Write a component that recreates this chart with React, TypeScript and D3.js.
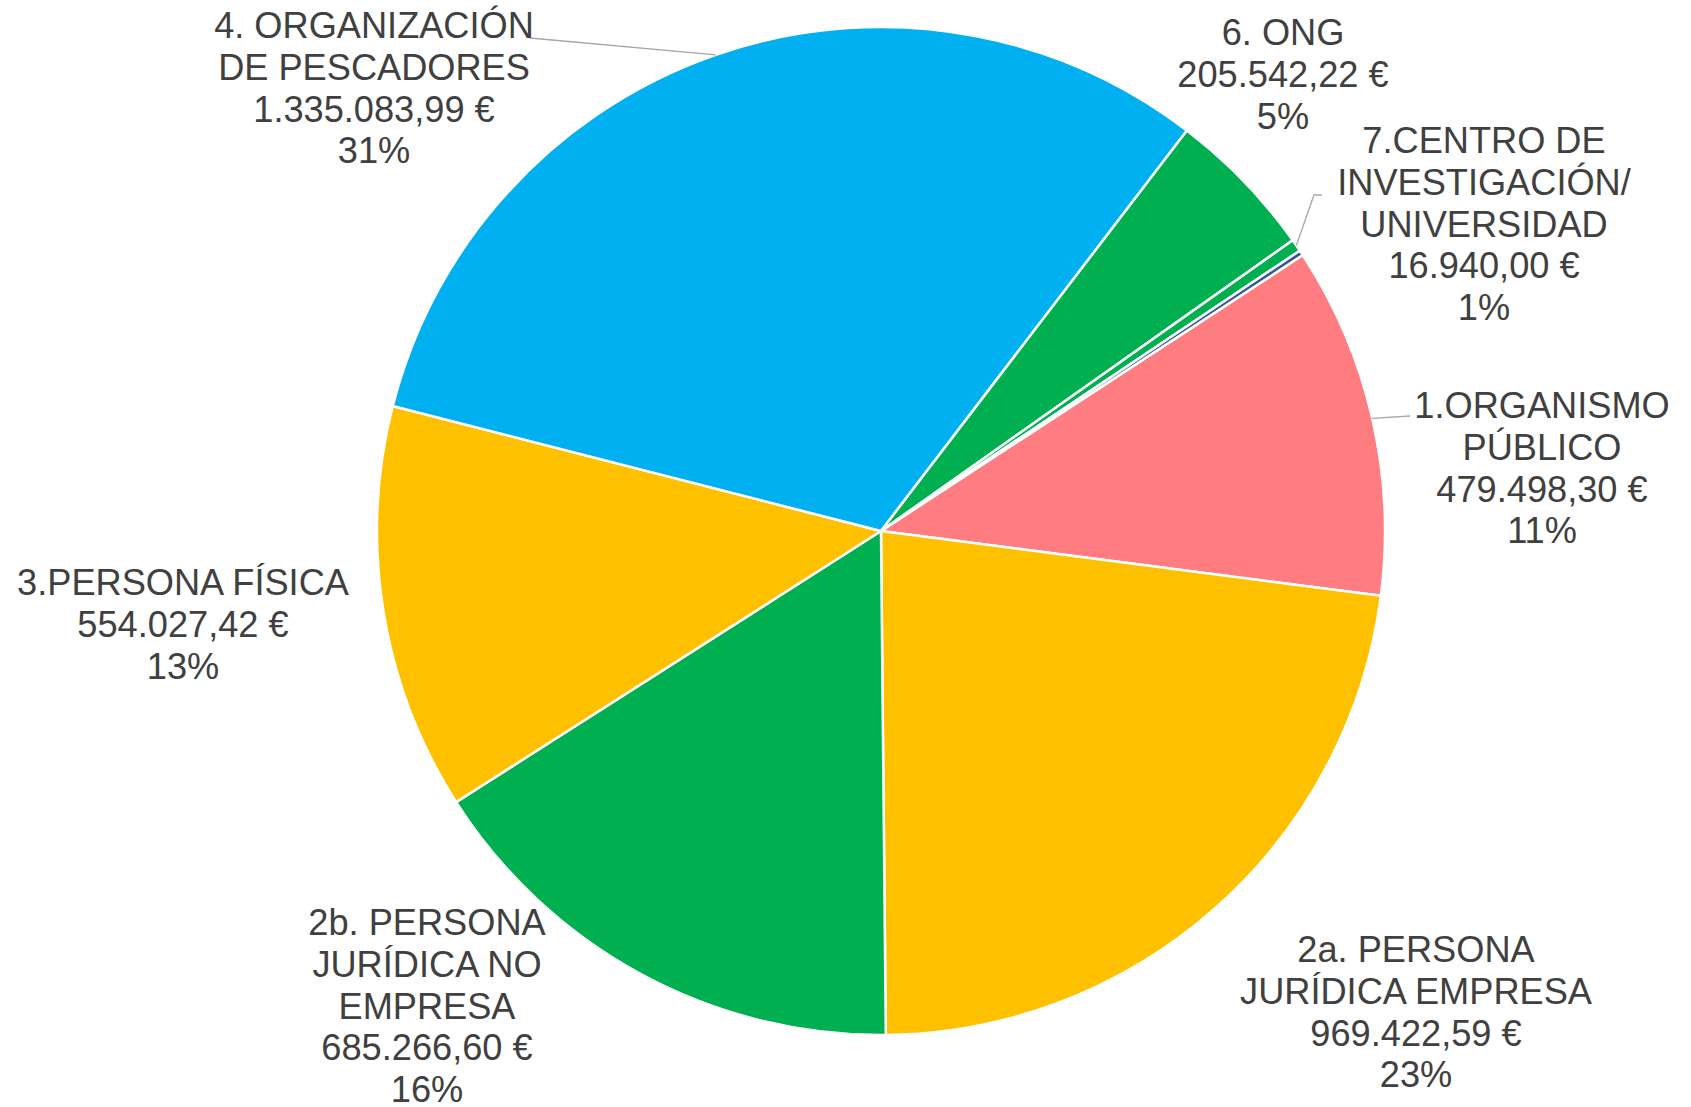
import React from "react";
import * as d3 from "d3";

const categories = [
  "1.ORGANISMO PÚBLICO",
  "2a. PERSONA JURÍDICA EMPRESA",
  "2b. PERSONA JURÍDICA NO EMPRESA",
  "3.PERSONA FÍSICA",
  "4. ORGANIZACIÓN DE PESCADORES",
  "6. ONG",
  "7.CENTRO DE INVESTIGACIÓN/ UNIVERSIDAD",
  "5.",
];
const values = [479498.3, 969422.59, 685266.6, 554027.42, 1335083.99, 205542.22, 16940.0, 7000];
const percentLabels = ["11%", "23%", "16%", "13%", "31%", "5%", "1%", ""];
const nameLines = [
  ["1.ORGANISMO", "PÚBLICO"],
  ["2a. PERSONA", "JURÍDICA EMPRESA"],
  ["2b. PERSONA", "JURÍDICA NO", "EMPRESA"],
  ["3.PERSONA FÍSICA"],
  ["4. ORGANIZACIÓN", "DE PESCADORES"],
  ["6. ONG"],
  ["7.CENTRO DE", "INVESTIGACIÓN/", "UNIVERSIDAD"],
  [],
];
const colors = ["#FF7C80", "#FFC000", "#00B050", "#FFC000", "#00B0F0", "#00B050", "#00B050", "#2F5597"];

// label layout (center x, first baseline y), leader end points
const labelPos: ({ x: number; y: number; leader?: [number, number][] } | null)[] = [
  { x: 1542, y: 418, leader: [[1410, 416]] },
  { x: 1416, y: 962 },
  { x: 427, y: 935 },
  { x: 183, y: 595 },
  { x: 374, y: 38, leader: [[530, 38]] },
  { x: 1283, y: 45 },
  { x: 1484, y: 153, leader: [[1314, 195], [1322, 195]] },
  null,
];

const W = 1691;
const H = 1107;
const cx = 881;
const cy = 531;
const R = 504;
const startDeg = 56.8;
const lineH = 41.8;

const esLocale = d3.formatLocale({
  decimal: ",",
  thousands: ".",
  grouping: [3],
  currency: ["", " €"],
});
const fmt = esLocale.format("$,.2f");

export default function App() {
  const data = categories.map((c, i) => ({ name: c, value: values[i], i }));
  const start = (startDeg * Math.PI) / 180;
  const pie = d3
    .pie<any>()
    .sort(null)
    .value((d: any) => d.value)
    .startAngle(start)
    .endAngle(start + 2 * Math.PI);
  const arcs = pie(data);
  const arc = d3.arc<any>().innerRadius(0).outerRadius(R);

  return (
    <svg
      width={W}
      height={H}
      style={{ position: "absolute", left: 0, top: 0, background: "#fff" }}
      fontFamily="'Liberation Sans', Arial, sans-serif"
    >
      <g transform={`translate(${cx},${cy})`}>
        {arcs.map((a, k) => (
          <path key={k} d={arc(a) as string} fill={colors[k]} stroke="#fff" strokeWidth={2.5} strokeLinejoin="round" />
        ))}
      </g>
      {arcs.map((a, k) => {
        const lp = labelPos[k];
        if (!lp || !lp.leader) return null;
        const mid = (a.startAngle + a.endAngle) / 2;
        const ax = cx + R * Math.sin(mid);
        const ay = cy - R * Math.cos(mid);
        const pts: [number, number][] = [[ax, ay], ...lp.leader];
        return (
          <path
            key={"l" + k}
            d={d3.line()(pts) as string}
            fill="none"
            stroke="#A6A6A6"
            strokeWidth={1.3}
          />
        );
      })}
      {arcs.map((a, k) => {
        const lp = labelPos[k];
        if (!lp) return null;
        const lines = [...nameLines[k], fmt(values[k]), percentLabels[k]];
        return (
          <text key={"t" + k} x={lp.x} y={lp.y} textAnchor="middle" fontSize={36.2} fill="#404040">
            {lines.map((ln, j) => (
              <tspan key={j} x={lp.x} y={lp.y + j * lineH}>
                {ln}
              </tspan>
            ))}
          </text>
        );
      })}
    </svg>
  );
}
